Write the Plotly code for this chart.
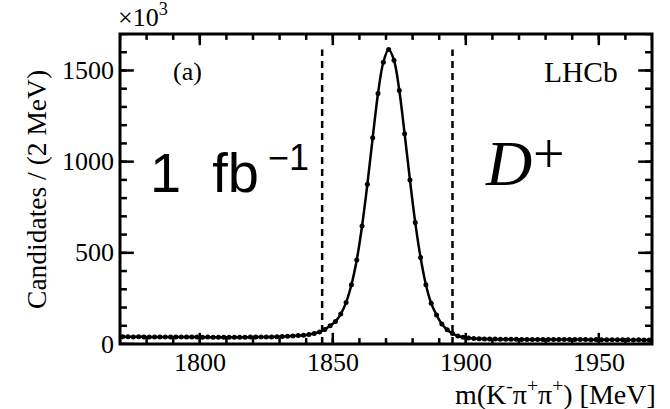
import plotly.graph_objects as go

# bin centres (2 MeV bins from 1770 to 1970)
mass = list(range(1771, 1971, 2))
counts = [
    40, 40, 39, 40, 39, 39, 39, 39, 38, 39, 38, 38, 38, 38, 38, 37, 38, 37,
    37, 37, 37, 37, 37, 37, 38, 38, 38, 39, 39, 40, 41, 42, 44, 46, 48,
    52, 58, 66, 80, 100, 124, 164, 228, 325, 461, 647, 876, 1131, 1374, 1545,
    1615, 1556, 1390, 1153, 900, 666, 474, 325, 223, 159, 109, 78, 57, 44, 37,
    33, 30, 29, 28,
    27, 27, 26, 26, 26, 26, 25, 25, 25, 25, 25, 25, 24, 24, 24, 24, 24, 24, 24,
    23, 24, 23, 23, 23, 23, 23, 23, 22, 23, 22, 22,
]
window = [1846, 1895]
x_range = [1770, 1970]
y_range = [0, 1700]
x_major = [1800, 1850, 1900, 1950]
x_minor = list(range(1770, 1971, 10))
y_major = [0, 500, 1000, 1500]
y_minor = list(range(0, 1701, 100))

SERIF = "Liberation Serif"
SANS = "Liberation Sans"

fig = go.Figure()

# inward tick marks on all four sides, built from the tick lists
x_span = x_range[1] - x_range[0]
y_span = y_range[1] - y_range[0]
tx, ty = [], []
for vals, frac in ((x_minor, 0.019), (x_major, 0.036)):
    for v in vals:
        tx += [v, v, None, v, v, None]
        ty += [y_range[0], y_range[0] + frac * y_span, None,
               y_range[1], y_range[1] - frac * y_span, None]
for vals, frac in ((y_minor, 0.013), (y_major, 0.026)):
    for v in vals:
        tx += [x_range[0], x_range[0] + frac * x_span, None,
               x_range[1], x_range[1] - frac * x_span, None]
        ty += [v, v, None, v, v, None]
fig.add_trace(go.Scatter(x=tx, y=ty, mode="lines", line=dict(color="black", width=2.5),
                         hoverinfo="skip", showlegend=False, connectgaps=False))

fig.add_trace(go.Scatter(x=mass, y=counts, mode="lines", line=dict(color="black", width=2.5, shape="spline"),
                         hoverinfo="skip", showlegend=False))
fig.add_trace(go.Scatter(x=mass, y=counts, mode="markers", marker=dict(color="black", size=5),
                         showlegend=False))

for w in window:
    fig.add_shape(type="line", x0=w, x1=w, y0=0, y1=max(counts), xref="x", yref="y",
                  line=dict(color="black", width=2.5, dash="7px,5px"))

# frame
fig.add_shape(type="rect", xref="paper", yref="paper", x0=0, x1=1, y0=0, y1=1,
              line=dict(color="black", width=3), layer="above")

fig.update_xaxes(range=x_range, showticklabels=False, ticks="", showgrid=False, zeroline=False, showline=False)
fig.update_yaxes(range=y_range, showticklabels=False, ticks="", showgrid=False, zeroline=False, showline=False)

lab_font = dict(family=SERIF, size=26, color="black")
ann = []
for v in x_major:
    ann.append(dict(text=str(v), xref="x", yref="paper", x=v, y=0, yshift=-2, showarrow=False,
                    xanchor="center", yanchor="top", font=lab_font))
for v in y_major:
    ann.append(dict(text=str(v), xref="paper", yref="y", x=0, y=v, xshift=-4, showarrow=False,
                    xanchor="right", yanchor="middle", font=lab_font))

ann.append(dict(text="Candidates / (2 MeV)", xref="paper", yref="paper", x=-0.158, y=0.5,
                textangle=-90, showarrow=False, xanchor="center", yanchor="middle",
                font=dict(family=SERIF, size=27.5, color="black")))
ann.append(dict(text="m(K<sup>-</sup>π<sup>+</sup>π<sup>+</sup>) [MeV]", xref="paper", yref="paper",
                x=1.012, y=-0.158, showarrow=False, xanchor="right", yanchor="middle",
                font=dict(family=SERIF, size=28, color="black")))
ann.append(dict(text="×10<sup>3</sup>", xref="paper", yref="paper", x=-0.008, y=1.0,
                showarrow=False, xanchor="left", yanchor="bottom",
                font=dict(family=SERIF, size=26, color="black")))
ann.append(dict(text="(a)", xref="x", yref="y", x=1789, y=1494, showarrow=False,
                xanchor="left", yanchor="middle", font=dict(family=SERIF, size=26, color="black")))
ann.append(dict(text="LHCb", xref="x", yref="y", x=1958, y=1494, showarrow=False,
                xanchor="right", yanchor="middle", font=dict(family=SERIF, size=29.5, color="black")))
ann.append(dict(text="1\u00a0\u00a0fb", xref="x", yref="y", x=1780.5, y=941, showarrow=False,
                xanchor="left", yanchor="middle", font=dict(family=SANS, size=56, color="black")))
ann.append(dict(text="\u22121", xref="x", yref="y", x=1825, y=1025, showarrow=False,
                xanchor="left", yanchor="middle", font=dict(family=SANS, size=36, color="black")))
ann.append(dict(text="<i>D</i>", xref="x", yref="y", x=1906.5, y=988, showarrow=False,
                xanchor="left", yanchor="middle", font=dict(family=SERIF, size=64, color="black")))
ann.append(dict(text="+", xref="x", yref="y", x=1931.3, y=1040, showarrow=False,
                xanchor="center", yanchor="middle", font=dict(family=SERIF, size=56, color="black")))

fig.update_layout(width=670, height=409, margin=dict(l=120, r=18, t=34, b=65),
                  plot_bgcolor="white", paper_bgcolor="white", annotations=ann)

fig.write_html("out.html")
